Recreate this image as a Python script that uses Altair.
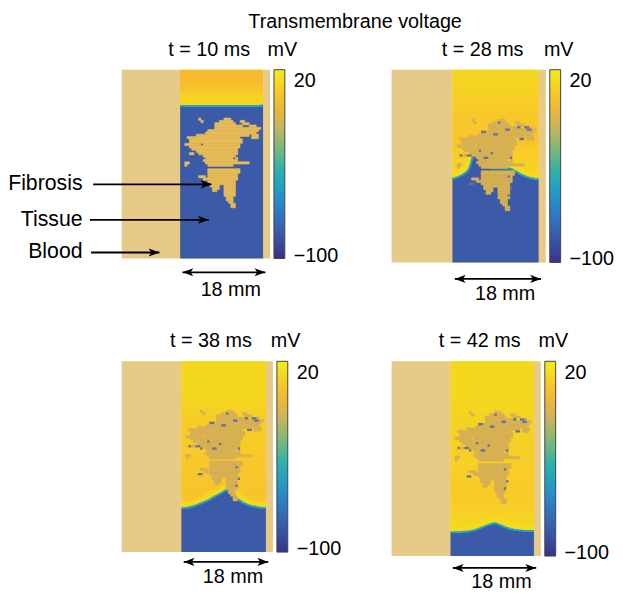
import altair as alt
import pandas as pd

FONT = "Liberation Sans"
BLOOD = "#e8ca88"
FIB_COLORS = ["#e7bb56", "#d7b053", "#d7b053", "#d7b053"]
REST_COLOR = "#3b5aa8"
FRONT_COLOR = "#27a4c0"
RIM_COLOR = "#f4da1d"
TRAP_COLOR = "#6673a3"

# ---------------- panel meta ----------------
times = [10, 28, 38, 42]
panel_w = [150, 156, 153, 151]
panel_h = [191, 195, 193, 197]

# geometry in mm (x: 0 = blood/tissue border, y: 0 = top)
x_domain = [-12.7, 19.5]
y_domain = [0.0, 41.0]
tan_x0 = [-12.7, 18.0]          # blood, right strip
tan_x1 = [0.0, 19.5]
tissue_x0, tissue_x1 = 0.0, 18.0

# colour map (muted parula as printed)
cmap_v = [-102, -85, -70, -55, -40, -25, -10, 5, 13, 20, 28]
cmap_c = ["#38318a", "#3b5aa8", "#2d79c3", "#1f9bca", "#30b2a8", "#80ba75",
          "#cbb55a", "#f7b82e", "#f8c82a", "#f3db1c", "#f1eb1e"]
base_v = 15

# wavefront depth (mm) per 0.5 mm column, c = 0..36
wave = [
    [7.9, 7.9, 7.9, 7.9, 7.9, 7.9, 7.9, 7.9, 7.9, 7.9, 7.9, 7.9, 7.9, 7.9, 7.9, 7.9,
     7.9, 7.9, 7.9, 7.9, 7.9, 7.9, 7.9, 7.9, 7.9, 7.9, 7.9, 7.9, 7.9, 7.9, 7.9, 7.9,
     7.9, 7.9, 7.9, 7.8, 7.8],
    [23.2, 23.1, 22.9, 22.7, 22.4, 22.1, 21.7, 21.0, 19.5, 18.0, 17.7, 17.7, 17.8,
     18.5, 19.5, 20.5, 21.0, 21.0, 21.0, 21.0, 21.0, 21.0, 21.0, 21.0, 21.0, 21.2,
     21.5, 21.8, 22.1, 22.4, 22.6, 22.8, 23.0, 23.1, 23.2, 23.3, 23.3],
    [31.6, 31.55, 31.5, 31.4, 31.3, 31.15, 31.0, 30.8, 30.6, 30.4, 30.2, 29.95, 29.7,
     29.4, 29.1, 28.85, 28.6, 28.3, 28.0, 27.7, 27.7, 28.1, 28.5, 29.1, 29.6, 30.0,
     30.3, 30.55, 30.8, 30.95, 31.1, 31.2, 31.3, 31.4, 31.5, 31.5, 31.5],
    [36.0, 36.0, 36.0, 36.0, 36.0, 35.95, 35.9, 35.85, 35.8, 35.7, 35.6, 35.45, 35.3,
     35.1, 34.9, 34.7, 34.5, 34.35, 34.2, 34.1, 34.2, 34.4, 34.6, 34.8, 35.0, 35.15,
     35.3, 35.4, 35.5, 35.55, 35.6, 35.65, 35.7, 35.7, 35.7, 35.7, 35.7],
]
rim_width = [0, 12, 12, 12]

# activated-tissue voltage (mV) per 1 mm band from the top
act = [
    [6, 6, 7, 9, 12, 16, 18, 19],
    [18, 18, 18, 17, 17, 16, 15, 14, 14, 13, 13, 13, 12, 12, 12, 12, 13, 14, 15, 16,
     17, 18, 18, 18],
    [19, 19, 19, 19, 19, 19, 19, 18, 18, 17, 16, 15, 15, 14, 14, 14, 14, 14, 14, 14,
     13, 13, 13, 13, 12, 12, 11, 11, 11, 12, 14, 16],
    [19, 19, 19, 19, 19, 19, 19, 19, 18, 18, 18, 17, 17, 17, 17, 17, 16, 16, 16, 16,
     16, 16, 15, 15, 15, 14, 14, 14, 14, 14, 15, 16, 17, 18, 18, 18],
]

# fibrosis: row (0.5 mm) and column span (0.5 mm units)
fib_r = [21, 21, 22, 22, 22, 23, 23, 24, 24, 25, 26, 27, 28, 28, 29, 29, 30, 31, 32, 32,
         33, 34, 35, 36, 36, 37, 38, 38, 39, 40, 40, 41, 41, 43, 44, 45, 46, 46, 47, 48,
         49, 50, 50, 51, 51, 52, 52, 53, 54, 55, 56, 57, 58, 59]
fib_c0 = [19, 8, 17, 26, 9, 15, 27, 15, 30, 15, 12, 11, 7, 31, 3, 31, 4, 4, 2, 10,
          4, 5, 7, 4, 8, 10, 11, 24, 10, 2, 11, 2, 12, 12, 12, 12, 8, 12, 10, 12,
          13, 13, 19, 14, 19, 14, 19, 19, 19, 20, 20, 21, 22, 22]
fib_c1 = [22, 9, 23, 28, 10, 24, 30, 27, 33, 35, 34, 33, 30, 34, 26, 34, 27, 27, 9, 26,
          26, 25, 25, 6, 25, 24, 23, 25, 25, 4, 30, 3, 23, 26, 26, 25, 11, 25, 25, 24,
          24, 17, 24, 17, 24, 16, 24, 24, 24, 23, 23, 23, 24, 24]

# small unexcited tissue pockets inside the fibrosis (visible after excitation)
trap_r = [26, 25, 24, 24, 25, 29, 36, 36, 37, 34, 37, 35, 37, 48, 45, 50, 53, 22, 27]
trap_c0 = [12, 22, 27, 30, 31, 28, 3, 6, 8, 11, 13, 16, 24, 7, 23, 24, 23, 19, 17]
trap_c1 = [14, 24, 28.5, 32, 33, 30, 4, 8, 9, 12, 15, 17, 25, 9, 24, 25, 24, 20, 19]

# annotations (mm)
arrow_y = [44.0, 44.5, 43.1, 43.5]
scale_y = [47.9, 47.7, 46.3, 46.4]
scale_x0, scale_x1, scale_tx = 0.5, 18.5, 11.0
title_x, unit_x, title_y = 6.3, 22.2, -3.0

lab_text = ["Fibrosis", "Tissue", "Blood"]
lab_y = [24.9, 32.6, 39.7]
lab_x = -21.2
lab_start = [-18.9, -19.6, -19.35]
lab_tip = [6.8, 6.2, -4.5]

HEAD_R = "M0,0 L-2,-0.75 L-1.5,0 L-2,0.75 Z"
HEAD_L = "M0,0 L2,-0.75 L1.5,0 L2,0.75 Z"


def panel(i):
    w, h = panel_w[i], panel_h[i]
    xs = alt.Scale(domain=x_domain, nice=False, zero=False)
    ys = alt.Scale(domain=y_domain, nice=False, zero=False, reverse=True)
    cs = alt.Scale(domain=cmap_v, range=cmap_c, interpolate="rgb", clamp=True)
    leg = alt.Legend(type="gradient", direction="vertical", orient="right",
                     values=[-100, 20], format="d", gradientLength=h,
                     gradientThickness=11, gradientStrokeColor="#444",
                     gradientStrokeWidth=1, labelFont=FONT, labelFontSize=20,
                     labelColor="black", labelOffset=9, offset=4, padding=0,
                     title=None)
    col = alt.Color("v:Q", scale=cs, legend=leg)

    def X(f):
        return alt.X(f, type="quantitative", scale=xs, axis=None)

    def Y(f):
        return alt.Y(f, type="quantitative", scale=ys, axis=None)

    tan_df = pd.DataFrame({"x0": tan_x0, "x1": tan_x1,
                           "t": [y_domain[0]] * 2, "b": [y_domain[1]] * 2})
    tan = alt.Chart(tan_df).mark_rect(color=BLOOD).encode(
        x=X("x0"), x2="x1", y=Y("t"), y2="b")

    base_df = pd.DataFrame({"x0": [tissue_x0], "x1": [tissue_x1], "t": [y_domain[0]],
                            "b": [y_domain[1]], "v": [base_v]})
    base = alt.Chart(base_df).mark_rect().encode(
        x=X("x0"), x2="x1", y=Y("t"), y2="b", color=col)

    prof = act[i]
    band_df = pd.DataFrame({"x0": [tissue_x0] * len(prof), "x1": [tissue_x1] * len(prof),
                            "t": list(range(len(prof))),
                            "b": [k + 1 for k in range(len(prof))], "v": prof})
    bands = alt.Chart(band_df).mark_rect().encode(
        x=X("x0"), x2="x1", y=Y("t"), y2="b", color=col)

    layers = [tan, base, bands]

    wv = wave[i]
    wave_df = pd.DataFrame({"x": [k * 0.5 for k in range(len(wv))], "y": wv,
                            "b": [y_domain[1]] * len(wv)})
    if rim_width[i] > 0:
        rim = alt.Chart(wave_df).mark_line(interpolate="monotone",
                                           strokeWidth=rim_width[i], color=RIM_COLOR,
                                           opacity=0.85, clip=True).encode(
            x=X("x"), y=Y("y"))
        layers.append(rim)
    rest = alt.Chart(wave_df).mark_area(interpolate="monotone", color=REST_COLOR).encode(
        x=X("x"), y=Y("y"), y2="b")
    front = alt.Chart(wave_df).mark_line(interpolate="monotone", strokeWidth=2,
                                         color=FRONT_COLOR).encode(
        x=X("x"), y=Y("y"))

    fib_df = pd.DataFrame({"x0": [c * 0.5 for c in fib_c0], "x1": [c * 0.5 for c in fib_c1],
                           "t": [r * 0.5 for r in fib_r], "b": [r * 0.5 + 0.5 for r in fib_r]})
    fib = alt.Chart(fib_df).mark_rect(fill=FIB_COLORS[i], stroke=FIB_COLORS[i],
                                      strokeWidth=0.6).encode(
        x=X("x0"), x2="x1", y=Y("t"), y2="b")

    layers += [rest, front, fib]

    if i > 0:
        trap_df = pd.DataFrame({"x0": [c * 0.5 for c in trap_c0],
                                "x1": [c * 0.5 for c in trap_c1],
                                "t": [r * 0.5 for r in trap_r],
                                "b": [r * 0.5 + 0.5 for r in trap_r]})
        trap = alt.Chart(trap_df).mark_rect(color=TRAP_COLOR).encode(
            x=X("x0"), x2="x1", y=Y("t"), y2="b")
        layers.append(trap)

    # titles
    ttl_df = pd.DataFrame({"x": [title_x, unit_x], "y": [title_y, title_y],
                           "s": [f"t = {times[i]} ms", "mV"]})
    ttl = alt.Chart(ttl_df).mark_text(font=FONT, fontSize=20, baseline="alphabetic",
                                       align="center", color="black").encode(
        x=X("x"), y=Y("y"), text="s:N")
    layers.append(ttl)

    # 18 mm scale arrow
    sc_df = pd.DataFrame({"x0": [scale_x0], "x1": [scale_x1], "y": [arrow_y[i]]})
    sc_rule = alt.Chart(sc_df).mark_rule(color="black", strokeWidth=1.8).encode(
        x=X("x0"), x2="x1", y=Y("y"))
    sc_l = alt.Chart(sc_df).mark_point(shape=HEAD_L, filled=True, size=120,
                                       color="black", opacity=1).encode(
        x=X("x0"), y=Y("y"))
    sc_r = alt.Chart(sc_df).mark_point(shape=HEAD_R, filled=True, size=120,
                                       color="black", opacity=1).encode(
        x=X("x1"), y=Y("y"))
    sc_t = alt.Chart(pd.DataFrame({"x": [scale_tx], "y": [scale_y[i]], "s": ["18 mm"]})
                     ).mark_text(font=FONT, fontSize=20, baseline="middle",
                                 align="center", color="black").encode(
        x=X("x"), y=Y("y"), text="s:N")
    layers += [sc_rule, sc_l, sc_r, sc_t]

    if i == 0:
        lab_df = pd.DataFrame({"s": lab_text, "y": lab_y, "xt": [lab_x] * 3,
                               "x0": lab_start, "x1": lab_tip})
        lt = alt.Chart(lab_df).mark_text(font=FONT, fontSize=21.5, baseline="middle",
                                         align="right", color="black").encode(
            x=X("xt"), y=Y("y"), text="s:N")
        lr = alt.Chart(lab_df).mark_rule(color="black", strokeWidth=1.8).encode(
            x=X("x0"), x2="x1", y=Y("y"))
        lh = alt.Chart(lab_df).mark_point(shape=HEAD_R, filled=True, size=120,
                                          color="black", opacity=1).encode(
            x=X("x1"), y=Y("y"))
        layers += [lt, lr, lh]

    return alt.layer(*layers).properties(width=w, height=h)


panels = [panel(i) for i in range(4)]

chart = alt.concat(*panels, columns=2, spacing={"row": 27, "column": 50}).resolve_scale(
    x="independent", y="independent", color="independent"
).properties(
    title=alt.TitleParams("Transmembrane voltage", anchor="start", dx=243, font=FONT,
                          fontSize=20, fontWeight="normal", color="black", offset=8),
    padding=0,
).configure_view(strokeWidth=0)

chart.save("out.html", embed_options={"renderer": "svg", "actions": False})
